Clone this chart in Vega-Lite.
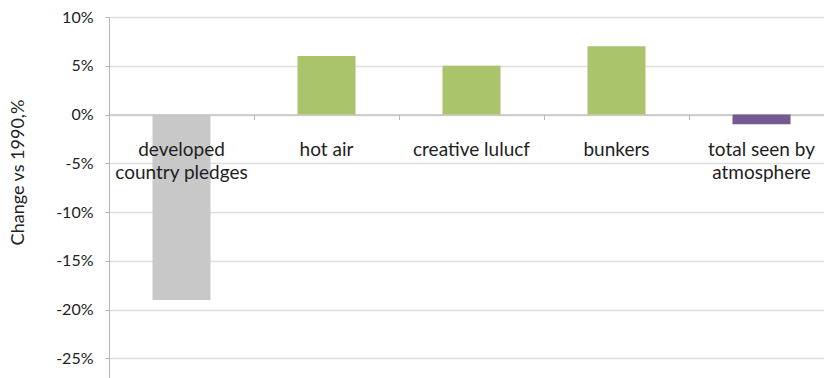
{
  "$schema": "https://vega.github.io/schema/vega-lite/v6.json",
  "width": 715,
  "height": 361,
  "autosize": {"type": "none"},
  "padding": {"left": 109, "top": 17, "right": 0, "bottom": 0},
  "background": "white",
  "config": {
    "view": {"stroke": null},
    "font": "Lato",
    "axis": {"labelFont": "Lato", "titleFont": "Lato"}
  },
  "data": {
    "values": [
      {"category": "developed country pledges", "label": "developed\ncountry pledges", "change": -19, "kind": "pledge"},
      {"category": "hot air", "label": "hot air", "change": 6, "kind": "loophole"},
      {"category": "creative lulucf", "label": "creative lulucf", "change": 5, "kind": "loophole"},
      {"category": "bunkers", "label": "bunkers", "change": 7, "kind": "loophole"},
      {"category": "total seen by atmosphere", "label": "total seen by\natmosphere", "change": -1, "kind": "total"}
    ]
  },
  "encoding": {
    "x": {
      "field": "category",
      "type": "nominal",
      "sort": null,
      "scale": {"paddingInner": 0, "paddingOuter": 0, "range": [0, 725]},
      "axis": {
        "orient": "bottom",
        "offset": -263.4,
        "title": null,
        "labels": false,
        "bandPosition": 0,
        "tickSize": 5,
        "tickColor": "#b5b5b5",
        "domainColor": "#c4c4c4",
        "domainWidth": 1.5,
        "grid": false
      }
    }
  },
  "layer": [
    {
      "mark": {"type": "bar", "width": {"band": 0.4}},
      "encoding": {
        "y": {
          "field": "change",
          "type": "quantitative",
          "scale": {"domain": [-27, 10], "nice": false, "zero": true},
          "axis": {
            "values": [-25, -20, -15, -10, -5, 0, 5, 10],
            "labelExpr": "datum.value + '%'",
            "labelFontSize": 16,
            "labelColor": "#222222",
            "labelPadding": 12,
            "tickSize": 4,
            "tickColor": "#b5b5b5",
            "domainColor": "#b5b5b5",
            "gridColor": "#dedede",
            "gridWidth": 1.5,
            "title": "Change vs 1990,%",
            "titleFontSize": 18,
            "titleFontWeight": "normal",
            "titleColor": "#222222",
            "titleAngle": -90,
            "titleX": -91,
            "titleY": 155,
            "titleAlign": "center",
            "titleBaseline": "middle"
          }
        },
        "color": {
          "field": "kind",
          "type": "nominal",
          "scale": {
            "domain": ["pledge", "loophole", "total"],
            "range": ["#c8c8c8", "#a9c46b", "#735a93"]
          },
          "legend": null
        }
      }
    },
    {
      "mark": {
        "type": "text",
        "lineBreak": "\n",
        "baseline": "top",
        "align": "center",
        "fontSize": 19,
        "lineHeight": 23,
        "color": "#1e1e1e",
        "dy": 26
      },
      "encoding": {
        "y": {"datum": 0, "type": "quantitative"},
        "text": {"field": "label", "type": "nominal"}
      }
    }
  ]
}
